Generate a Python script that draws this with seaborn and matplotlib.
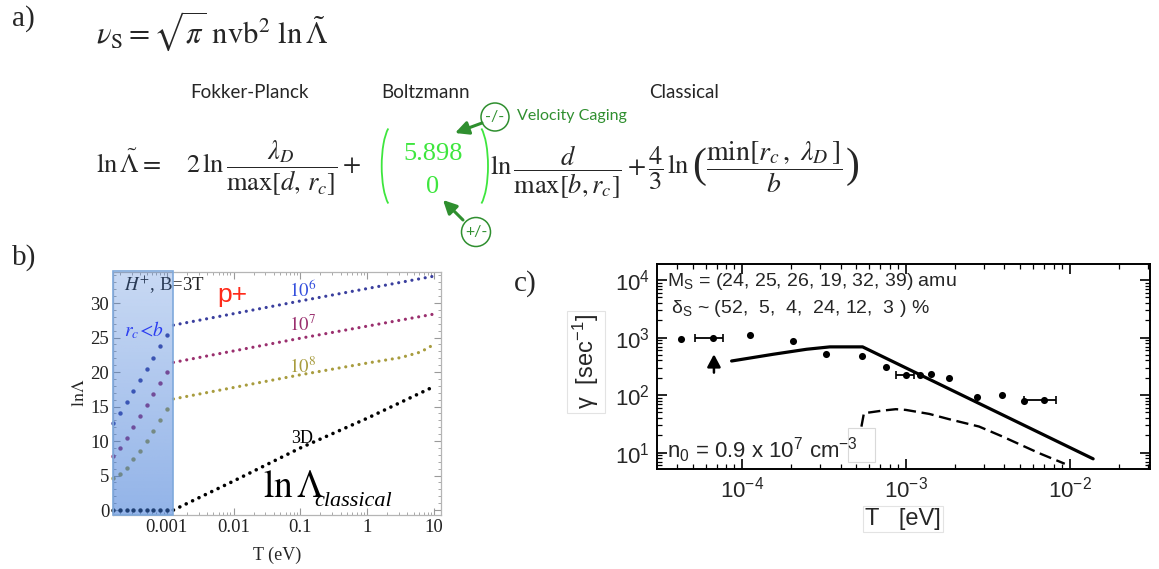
import numpy as np
import seaborn as sns
import matplotlib.pyplot as plt
from matplotlib.patches import Arc, Circle, Rectangle
from matplotlib.ticker import FixedLocator, FixedFormatter, MultipleLocator, LogLocator, NullFormatter

# ---------------- painel b: ln(Lambda) x T ----------------
# pontos dentro da faixa sombreada (r_c < b)
T_sombra = [1.58e-4, 2.0e-4, 2.51e-4, 3.16e-4, 3.98e-4, 5.01e-4, 6.31e-4, 7.94e-4, 1.0e-3]
lnL_n6_sombra = [12.6, 14.1, 15.7, 17.3, 18.9, 20.5, 22.1, 23.8, 25.4]
lnL_n7_sombra = [7.8, 9.0, 10.5, 12.1, 13.6, 15.2, 16.8, 18.4, 20.0]
lnL_n8_sombra = [4.6, 5.2, 6.1, 7.4, 8.6, 10.0, 11.5, 13.0, 14.6]
lnL_3d_sombra = [0, 0, 0, 0, 0, 0, 0, 0, 0]

# curvas fora da faixa
T_n6 = [1.26e-3, 0.1, 10]
lnL_n6 = [26.8, 30.3, 33.9]
T_n7 = [1.26e-3, 0.1, 10]
lnL_n7 = [21.4, 24.9, 28.4]
T_n8 = [1.26e-3, 0.1, 1, 3.2, 6.3, 10]
lnL_n8 = [16.1, 19.6, 21.3, 22.1, 22.9, 24.0]
T_3d = [1.26e-3, 0.01, 0.1, 1, 10]
lnL_3d = [0, 4.2, 9.0, 13.3, 17.9]

T_ticks_b = [1e-3, 1e-2, 0.1, 1, 10]
T_ticklabels_b = ["0.001", "0.01", "0.1", "1", "10"]

# ---------------- painel c: gamma x T ----------------
T_exp = [4.25e-5, 6.7e-5, 1.12e-4, 2.04e-4, 3.25e-4, 5.37e-4, 7.55e-4, 1.0e-3,
         1.22e-3, 1.43e-3, 1.84e-3, 2.73e-3, 3.85e-3, 5.26e-3, 6.97e-3]
gamma_exp = [960, 1000, 1096, 887, 526, 473, 308, 224, 227, 237, 195, 94, 101, 80, 83]

T_barra = [6.7e-5, 1.0e-3, 6.97e-3]
gamma_barra = [1000, 224, 83]
T_barra_min = [5.16e-5, 8.7e-4, 5.26e-3]
T_barra_max = [7.69e-5, 1.12e-3, 8.2e-3]

T_teoria = [8.65e-5, 1.55e-4, 2.48e-4, 3.44e-4, 5.45e-4, 1.39e-2]
gamma_teoria = [392, 513, 627, 690, 690, 7.8]

T_trac = [5.36e-4, 5.55e-4, 7.18e-4, 8.69e-4, 1.0e-3, 1.39e-3, 1.84e-3, 2.8e-3, 3.88e-3, 6.5e-3, 9.33e-3]
gamma_trac = [28.3, 48.4, 53.7, 56.9, 55.3, 47.1, 38.1, 28.4, 19.1, 9.8, 6.4]

T_seta = 6.75e-5
gamma_seta = [246, 513]

# ---------------- estilo ----------------
sns.set_theme(style="ticks")
plt.rcParams['font.family'] = ['Liberation Serif', 'DejaVu Serif']
plt.rcParams['mathtext.fontset'] = 'stix'

W, H = 1159, 569
fig = plt.figure(figsize=(W / 100, H / 100), dpi=100)
fig.patch.set_facecolor('white')

def caixa(l, t, r, b):
    return [l / W, (H - b) / H, (r - l) / W, (b - t) / H]

azul = '#3a3f9e'
roxo = '#9a2f6e'
oliva = '#a89c3e'

# ================= painel b =================
ax_b = fig.add_axes(caixa(113.3, 272, 441, 515))
ax_b.set_xscale('log')

series_sombra = [(lnL_n6_sombra, azul), (lnL_n7_sombra, roxo), (lnL_n8_sombra, oliva), (lnL_3d_sombra, 'black')]
for valores, cor in series_sombra:
    sns.scatterplot(x=T_sombra, y=valores, ax=ax_b, color=cor, s=10, linewidth=0, zorder=2, clip_on=False)

series_linha = [(T_n6, lnL_n6, azul, 2.3, 2.1), (T_n7, lnL_n7, roxo, 2.3, 2.1),
                (T_n8, lnL_n8, oliva, 2.3, 2.1), (T_3d, lnL_3d, 'black', 2.6, 1.95)]
for tx, valores, cor, lw, gap in series_linha:
    sns.lineplot(x=tx, y=valores, ax=ax_b, color=cor, lw=lw, linestyle=(0, (0.01, gap)),
                 dash_capstyle='round', estimator=None, sort=False, zorder=2)

# faixa sombreada com gradiente
grad = np.zeros((100, 1, 4))
grad[..., 0] = 0x3a / 255
grad[..., 1] = 0x76 / 255
grad[..., 2] = 0xd6 / 255
grad[:, 0, 3] = np.linspace(0.28, 0.55, 100)
ax_b.imshow(grad, extent=[10 ** -3.8, 1.26e-3, -0.72, 34.5], origin='upper', aspect='auto',
            zorder=3, interpolation='bilinear')
ax_b.add_patch(Rectangle((10 ** -3.8, -0.72), 1.26e-3 - 10 ** -3.8, 35.4, fill=False,
                         ec='#7fa9dc', lw=1.2, zorder=3.1, clip_on=False))
ax_b.set_xlim(10 ** -3.8, 10 ** 1.105)
ax_b.set_ylim(-0.72, 34.5)

ax_b.xaxis.set_major_locator(FixedLocator(T_ticks_b))
ax_b.xaxis.set_major_formatter(FixedFormatter(T_ticklabels_b))
ax_b.xaxis.set_minor_locator(LogLocator(base=10, subs=np.arange(2, 10), numticks=20))
ax_b.xaxis.set_minor_formatter(NullFormatter())
ax_b.yaxis.set_major_locator(MultipleLocator(5))
ax_b.yaxis.set_minor_locator(MultipleLocator(1))
ax_b.tick_params(which='both', direction='in', top=True, right=True, color='#9a9a9a')
ax_b.tick_params(which='major', length=5, width=0.8, labelsize=13.5, pad=3, labelcolor='#222222')
ax_b.tick_params(which='minor', length=2.5, width=0.6)
for s in ax_b.spines.values():
    s.set_color('#b5b5b5')
    s.set_linewidth(0.9)

ax_b.text(2.3e-4, 32.6, r'$H^{+}$, B=3T', fontsize=13.5, color='#222222', va='center', zorder=2)
ax_b.text(2.3e-4, 26.1, r'$r_c\!<\!b$', fontsize=14, color='#2a3cf0', va='center', zorder=5)
ax_b.text(5.8e-3, 31.2, 'p+', fontsize=19, color='#ff2a1a', va='center', family='Liberation Sans')
ax_b.text(0.0687, 31.9, r'$10^6$', fontsize=13.5, color='#3550dd', va='center')
ax_b.text(0.0687, 26.8, r'$10^7$', fontsize=13.5, color=roxo, va='center')
ax_b.text(0.0687, 20.7, r'$10^8$', fontsize=13.5, color=oliva, va='center')
ax_b.text(0.0736, 10.3, '3D', fontsize=13, color='black', va='center')
ax_b.text(0.0272, 3.2, r'$\mathrm{ln}\,\Lambda$', fontsize=27, color='black', va='center')
ax_b.text(0.1626, 1.3, 'classical', fontsize=16, style='italic', color='black', va='center')

# ================= painel c =================
ax_c = fig.add_axes(caixa(656.7, 264, 1150, 469.3))
ax_c.set_xscale('log')
ax_c.set_yscale('log')

sns.lineplot(x=T_teoria, y=gamma_teoria, ax=ax_c, color='black', lw=2.3,
             estimator=None, sort=False, zorder=3)
sns.lineplot(x=T_trac, y=gamma_trac, ax=ax_c, color='black', lw=1.7,
             linestyle=(0, (5.2, 2.4)), estimator=None, sort=False, zorder=2)
sns.scatterplot(x=T_exp, y=gamma_exp, ax=ax_c, color='black', s=26, linewidth=0, zorder=4)
xerr = [np.array(T_barra) - np.array(T_barra_min), np.array(T_barra_max) - np.array(T_barra)]
ax_c.errorbar(T_barra, gamma_barra, xerr=xerr, fmt='none', ecolor='black', elinewidth=1.3,
              capsize=3, capthick=1.2, zorder=4)
ax_c.annotate('', xy=(T_seta, gamma_seta[1]), xytext=(T_seta, gamma_seta[0]),
              arrowprops=dict(arrowstyle='-|>,head_width=0.4,head_length=0.75', color='black',
                              lw=1.8, mutation_scale=10, shrinkA=0, shrinkB=0))

ax_c.set_xlim(10 ** -4.52, 10 ** -1.51)
ax_c.set_ylim(10 ** 0.71, 10 ** 4.28)
ax_c.xaxis.set_major_locator(LogLocator(base=10, numticks=10))
ax_c.xaxis.set_minor_locator(LogLocator(base=10, subs=np.arange(2, 10), numticks=10))
ax_c.yaxis.set_major_locator(LogLocator(base=10, numticks=10))
ax_c.yaxis.set_minor_locator(LogLocator(base=10, subs=np.arange(2, 10), numticks=10))
ax_c.xaxis.set_minor_formatter(NullFormatter())
ax_c.yaxis.set_minor_formatter(NullFormatter())
ax_c.tick_params(which='both', direction='in', top=True, right=True, color='black')
ax_c.tick_params(which='major', length=7, width=1.2, labelsize=16, pad=5,
                 labelfontfamily='Liberation Sans')
ax_c.tick_params(which='minor', length=3.5, width=0.9)
for s in ax_c.spines.values():
    s.set_color('black')
    s.set_linewidth(1.4)

ax_c.add_patch(Rectangle((0.388, 0.036), 0.055, 0.165, transform=ax_c.transAxes, fc='white',
                         ec='#d9d9d9', lw=0.8, zorder=5))
sans = 'Liberation Sans'
ax_c.text(0.02, 0.915, r'M$\mathregular{_S}$ = (24, 25, 26, 19, 32, 39) amu', transform=ax_c.transAxes,
          fontsize=14, family=sans, va='center', zorder=6)
ax_c.text(0.03, 0.785, r'$\mathregular{δ_S}$ ~ (52,  5,  4,  24, 12,  3 ) %', transform=ax_c.transAxes,
          fontsize=14, family=sans, va='center', zorder=6)
ax_c.text(0.02, 0.095, r'n$\mathregular{_0}$ = 0.9 x 10$\mathregular{^7}$ cm$\mathregular{^{-3}}$',
          transform=ax_c.transAxes, fontsize=16, family=sans, va='center', zorder=6)

# ================= camada de texto (pixels) =================
ax0 = fig.add_axes([0, 0, 1, 1], zorder=10)
ax0.set_xlim(0, W)
ax0.set_ylim(H, 0)
ax0.axis('off')
ax0.patch.set_alpha(0)

ax0.text(12, 19, 'a)', fontsize=21, va='center')
ax0.text(12, 258, 'b)', fontsize=21, va='center')
ax0.text(514, 284, 'c)', fontsize=21, va='center')

# equacoes
ax0.text(96, 43, r'$\nu_{\mathrm{S}} = \sqrt{\pi}\ \mathrm{nvb}^2\ \mathrm{ln}\,\tilde{\Lambda}$',
         fontsize=22, va='baseline')
lato = 'Lato'
ax0.text(190, 98, 'Fokker-Planck', fontsize=13.5, family=lato, va='baseline')
ax0.text(381, 98, 'Boltzmann', fontsize=13.5, family=lato, va='baseline')
ax0.text(649, 98, 'Classical', fontsize=13.5, family=lato, va='baseline')

ax0.text(96, 173, r'$\mathrm{ln}\,\tilde{\Lambda}=$', fontsize=19, va='baseline')
ax0.text(186, 173, r'$2\,\mathrm{ln}\,\dfrac{\lambda_D}{\mathrm{max}[d,\,r_c]}+$', fontsize=19, va='baseline')
ax0.text(490, 175, r'$\mathrm{ln}\,\dfrac{d}{\mathrm{max}[b,r_c]}+$', fontsize=19, va='baseline')
ax0.text(648, 175, r'$\dfrac{4}{3}\,\mathrm{ln}$', fontsize=19, va='baseline')
ax0.text(692, 167, '(', fontsize=30, va='center', family='Liberation Serif')
ax0.text(706, 175, r'$\dfrac{\mathrm{min}[r_c\,,\ \lambda_D\,]}{b}$', fontsize=20, va='baseline')
ax0.text(846, 167, ')', fontsize=30, va='center', family='Liberation Serif')

verde = '#3ee63e'
verde_esc = '#2f8f2f'
ax0.text(433, 160, '5.898', fontsize=19, color=verde, ha='center', va='baseline')
ax0.text(433, 193, '0', fontsize=19, color=verde, ha='center', va='baseline')
# parenteses verdes (angulos geometricos da elipse)
ax0.add_patch(Arc((393.7, 166), 24, 84, theta1=98.2, theta2=261.8, color=verde, lw=1.3))
ax0.add_patch(Arc((476, 166), 24, 84, theta1=-81.8, theta2=81.8, color=verde, lw=1.3))

ax0.add_patch(Circle((495, 117), 14, fill=False, ec=verde_esc, lw=1.1))
ax0.text(495, 117, '-/-', fontsize=11.5, color=verde_esc, ha='center', va='center', family=lato)
ax0.add_patch(Circle((476, 232), 14.5, fill=False, ec=verde_esc, lw=1.1))
ax0.text(476, 232, '+/-', fontsize=11.5, color=verde_esc, ha='center', va='center', family=lato)
ax0.text(517, 116, 'Velocity Caging', fontsize=11.5, color=verde_esc, va='center', family=lato)
ax0.annotate('', xy=(455, 133), xytext=(482, 123),
             arrowprops=dict(arrowstyle='-|>,head_width=0.4,head_length=0.8', color=verde_esc,
                             lw=2.2, mutation_scale=10, shrinkA=0, shrinkB=0))
ax0.annotate('', xy=(443, 200), xytext=(463, 220),
             arrowprops=dict(arrowstyle='-|>,head_width=0.4,head_length=0.8', color=verde_esc,
                             lw=2.2, mutation_scale=10, shrinkA=0, shrinkB=0))

# rotulos dos eixos
ax0.text(79, 393, r'$\mathrm{ln}\Lambda$', fontsize=13, rotation=90, ha='center', va='center')
ax0.text(277, 555, 'T (eV)', fontsize=13, ha='center', va='center')
ax0.text(586, 362, r'γ  [sec$\mathregular{^{-1}}$]', fontsize=17, family=sans, rotation=90,
         ha='center', va='center',
         bbox=dict(boxstyle='square,pad=0.15', fc='white', ec='#e3e3e3', lw=0.8))
ax0.text(903, 519, 'T   [eV]', fontsize=17, family=sans, ha='center', va='center',
         bbox=dict(boxstyle='square,pad=0.1', fc='white', ec='#e3e3e3', lw=0.8))

fig.savefig('out.png', dpi=100, facecolor='white')
